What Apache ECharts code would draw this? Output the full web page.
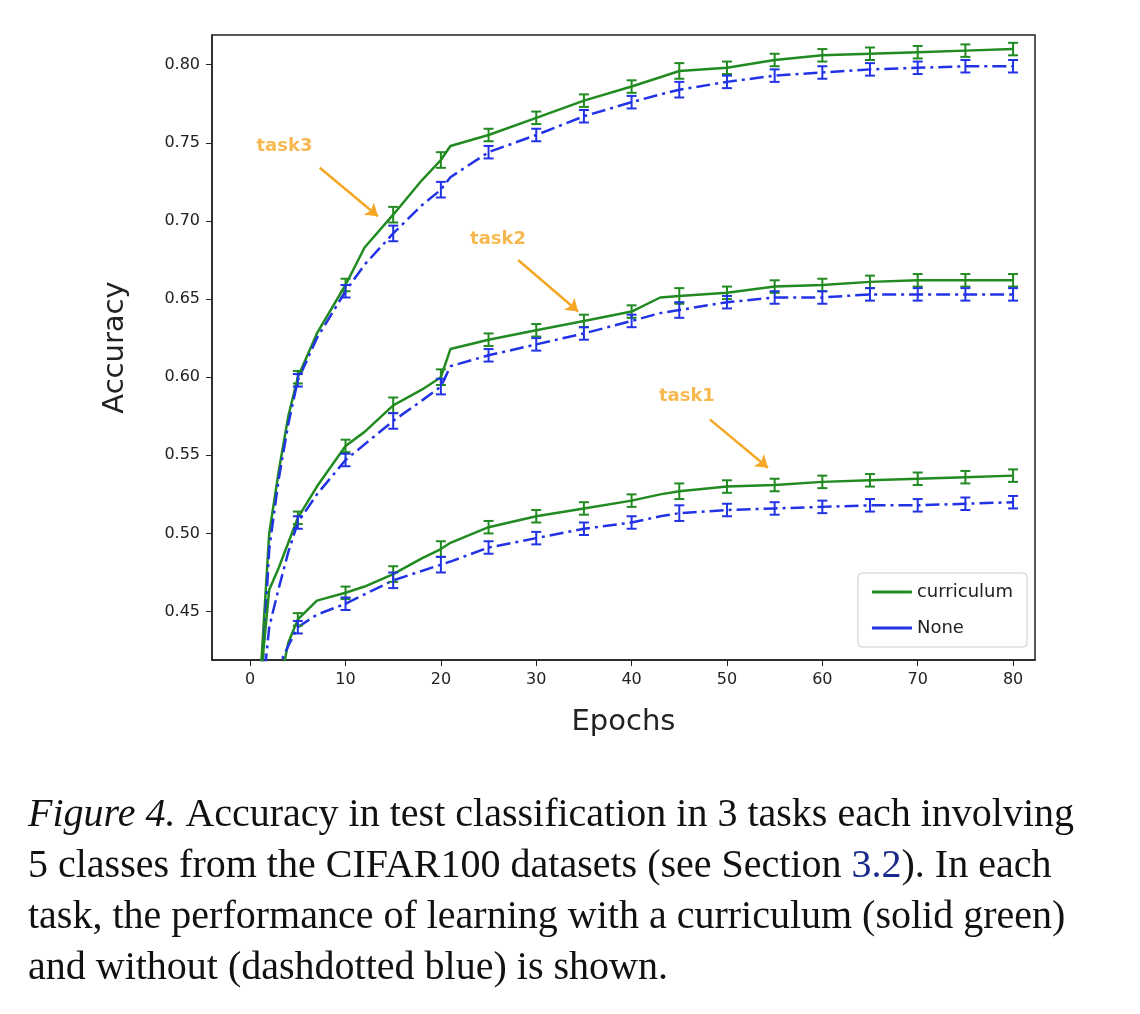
<!DOCTYPE html>
<html>
<head>
<meta charset="utf-8">
<script src="https://cdn.jsdelivr.net/npm/echarts@6/dist/echarts.min.js"></script>
<style>html,body{margin:0;background:#fff}#chart{width:1140px;height:1014px}</style>
</head>
<body>
<div id="chart"></div>
<script>
'use strict';

var ep = [1, 2, 3, 4, 5, 7, 10, 12, 15, 18, 20, 21, 25, 30, 35, 40, 43, 45, 50, 55, 60, 65, 70, 75, 80];
var t3Cur  = [0.40, 0.50, 0.54, 0.575, 0.600, 0.628, 0.659, 0.683, 0.704, 0.726, 0.739, 0.748, 0.755, 0.766, 0.777, 0.786, 0.792, 0.796, 0.798, 0.803, 0.806, 0.807, 0.808, 0.809, 0.810];
var t3None = [0.38, 0.49, 0.535, 0.570, 0.598, 0.625, 0.655, 0.672, 0.692, 0.710, 0.720, 0.728, 0.744, 0.755, 0.767, 0.776, 0.781, 0.784, 0.789, 0.793, 0.795, 0.797, 0.798, 0.799, 0.799];
var t2Cur  = [0.40, 0.464, 0.478, 0.494, 0.510, 0.530, 0.556, 0.565, 0.582, 0.592, 0.600, 0.618, 0.624, 0.630, 0.636, 0.642, 0.651, 0.652, 0.654, 0.658, 0.659, 0.661, 0.662, 0.662, 0.662];
var t2None = [0.38, 0.440, 0.465, 0.488, 0.507, 0.525, 0.547, 0.557, 0.572, 0.585, 0.594, 0.607, 0.614, 0.621, 0.628, 0.636, 0.641, 0.643, 0.648, 0.651, 0.651, 0.653, 0.653, 0.653, 0.653];
var t1Cur  = [0.36, 0.38, 0.40, 0.430, 0.445, 0.457, 0.462, 0.466, 0.474, 0.484, 0.490, 0.494, 0.504, 0.511, 0.516, 0.521, 0.525, 0.527, 0.530, 0.531, 0.533, 0.534, 0.535, 0.536, 0.537];
var t1None = [0.34, 0.37, 0.415, 0.428, 0.440, 0.448, 0.455, 0.461, 0.470, 0.476, 0.480, 0.482, 0.491, 0.497, 0.503, 0.507, 0.511, 0.513, 0.515, 0.516, 0.517, 0.518, 0.518, 0.519, 0.520];
var errEp = [5, 10, 15, 20, 25, 30, 35, 40, 45, 50, 55, 60, 65, 70, 75, 80];
var errHalf = [0.004, 0.004, 0.005, 0.005, 0.004, 0.004, 0.004, 0.004, 0.005, 0.004, 0.004, 0.004, 0.004, 0.004, 0.004, 0.004];
var xTicks = [0, 10, 20, 30, 40, 50, 60, 70, 80];
var yTicks = [0.45, 0.5, 0.55, 0.6, 0.65, 0.7, 0.75, 0.8];

var GREEN = '#218a21', BLUE = '#2233e6', ORANGE = '#f5a623';
var DASHDOT = [14, 5, 3, 5];

function pairs(ys) { return ep.map(function (e, i) { return [e, ys[i]]; }); }
function errData(ys) {
  return errEp.map(function (e, i) {
    var y = ys[ep.indexOf(e)];
    return [e, y - errHalf[i], y + errHalf[i]];
  });
}
function lineSeries(name, ys, color, dash) {
  return { name: name, type: 'line', data: pairs(ys), showSymbol: false, smooth: false, clip: true,
    lineStyle: { color: color, width: 2.5, type: dash ? DASHDOT : 'solid' }, itemStyle: { color: color }, z: 3 };
}
function errSeries(ys, color) {
  return { type: 'custom', data: errData(ys), clip: true, z: 4,
    renderItem: function (params, api) {
      var top = api.coord([api.value(0), api.value(2)]);
      var bot = api.coord([api.value(0), api.value(1)]);
      var c = 5;
      return { type: 'group', children: [
        { type: 'line', shape: { x1: top[0], y1: top[1], x2: bot[0], y2: bot[1] }, style: { stroke: color, lineWidth: 2 } },
        { type: 'line', shape: { x1: top[0] - c, y1: top[1], x2: top[0] + c, y2: top[1] }, style: { stroke: color, lineWidth: 2 } },
        { type: 'line', shape: { x1: bot[0] - c, y1: bot[1], x2: bot[0] + c, y2: bot[1] }, style: { stroke: color, lineWidth: 2 } }
      ] };
    } };
}

var notes = [
  { text: 'task3', at: [3.6, 0.748], from: [7.3, 0.734], to: [13.4, 0.703] },
  { text: 'task2', at: [26.0, 0.688], from: [28.1, 0.675], to: [34.4, 0.642] },
  { text: 'task1', at: [45.8, 0.588], from: [48.2, 0.573], to: [54.3, 0.542] }
];

var series = [
  lineSeries('curriculum', t3Cur, GREEN, false), lineSeries('None', t3None, BLUE, true),
  lineSeries('curriculum', t2Cur, GREEN, false), lineSeries('None', t2None, BLUE, true),
  lineSeries('curriculum', t1Cur, GREEN, false), lineSeries('None', t1None, BLUE, true),
  errSeries(t3Cur, GREEN), errSeries(t3None, BLUE), errSeries(t2Cur, GREEN),
  errSeries(t2None, BLUE), errSeries(t1Cur, GREEN), errSeries(t1None, BLUE),
  { type: 'scatter', symbolSize: 0, data: notes.map(function (n) { return { value: n.at, label: { show: true, formatter: n.text } }; }),
    label: { position: 'inside', color: ORANGE, fontSize: 18, fontWeight: 'bold', fontFamily: 'DejaVu Sans' }, z: 5,
    markLine: { silent: true, symbol: ['none', 'arrow'], symbolSize: 12, label: { show: false },
      lineStyle: { color: ORANGE, width: 2.5, type: 'solid' },
      data: notes.map(function (n) { return [{ coord: n.from }, { coord: n.to }]; }) } }
];

var chart = echarts.init(document.getElementById('chart'));
chart.setOption({
  animation: false,
  grid: { left: 212, top: 35, width: 823, height: 625 },
  legend: { data: [{ name: 'curriculum' }, { name: 'None' }], orient: 'vertical', right: 113, top: 573,
    itemWidth: 40, itemHeight: 3, itemGap: 18, padding: [10, 14, 10, 14],
    backgroundColor: '#fff', borderColor: '#ccc', borderWidth: 1, borderRadius: 4,
    textStyle: { fontSize: 18, fontFamily: 'DejaVu Sans', color: '#222' },
    icon: 'rect' },
  xAxis: { type: 'value', min: -4, max: 82.3, interval: 10,
    name: 'Epochs', nameLocation: 'middle', nameGap: 48, nameTextStyle: { fontSize: 29, fontFamily: 'DejaVu Sans', color: '#222' },
    axisLine: { onZero: false, lineStyle: { color: '#222', width: 1.5 } },
    axisTick: { show: true, length: 6, lineStyle: { color: '#222' }, customValues: xTicks },
    axisLabel: { fontSize: 16, fontFamily: 'DejaVu Sans', color: '#222', margin: 12, customValues: xTicks },
    splitLine: { show: false } },
  yAxis: { type: 'value', min: 0.419, max: 0.819,
    name: 'Accuracy', nameLocation: 'middle', nameGap: 82, nameTextStyle: { fontSize: 29, fontFamily: 'DejaVu Sans', color: '#222' },
    axisLine: { show: true, onZero: false, lineStyle: { color: '#222', width: 1.5 } },
    axisTick: { show: true, length: 6, lineStyle: { color: '#222' }, customValues: yTicks },
    axisLabel: { fontSize: 16, fontFamily: 'DejaVu Sans', color: '#222', margin: 12,
      customValues: yTicks, formatter: function (v) { return v.toFixed(2); } },
    splitLine: { show: false } },
  graphic: [
    { type: 'rect', shape: { x: 212, y: 35, width: 823, height: 625 }, style: { fill: 'none', stroke: '#222', lineWidth: 1.5 }, silent: true },
    { type: 'text', left: 28, top: 790, style: {
      text: '{i|Figure 4.} Accuracy in test classification in 3 tasks each involving\n5 classes from the CIFAR100 datasets (see Section {b|3.2}). In each\ntask, the performance of learning with a curriculum (solid green)\nand without (dashdotted blue) is shown.',
      font: '40px "Liberation Serif"', fill: '#111', lineHeight: 51,
      rich: { i: { fontStyle: 'italic', fontSize: 40, fontFamily: 'Liberation Serif', fill: '#111', lineHeight: 51 },
              b: { fontSize: 40, fontFamily: 'Liberation Serif', fill: '#1a2a8a', lineHeight: 51 } } } }
  ],
  series: series
});
</script>
</body>
</html>
